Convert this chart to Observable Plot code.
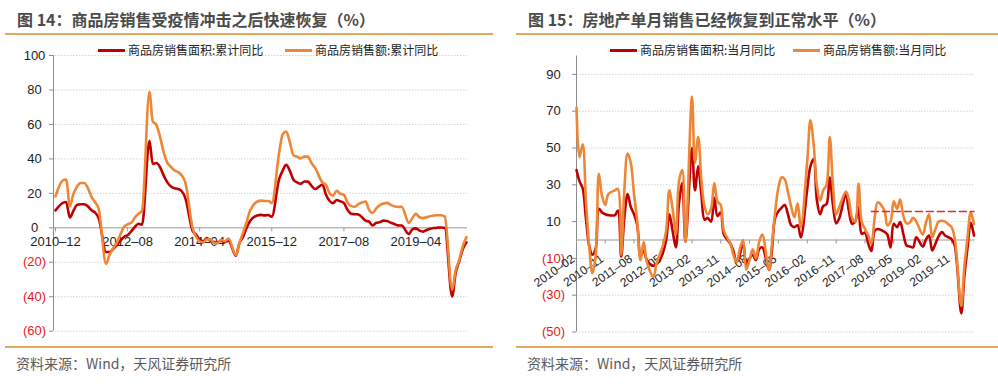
<!DOCTYPE html>
<html><head><meta charset="utf-8">
<script src="https://cdn.jsdelivr.net/npm/d3@7"></script>
<script src="https://cdn.jsdelivr.net/npm/@observablehq/plot@0.6"></script>
<style>
body{margin:0;background:#fff;}
#root{position:relative;width:998px;height:387px;overflow:hidden;font-family:"Noto Sans CJK SC","Liberation Sans",sans-serif;}
.panel{position:absolute;top:0;height:387px;}
.title{position:absolute;top:9px;font-size:16px;line-height:20px;font-weight:700;color:#4a4a4a;white-space:nowrap;}
.rule{position:absolute;height:1.5px;background:#E3A85E;}
.src{position:absolute;top:353px;font-size:14px;line-height:20px;color:#5a5a5a;white-space:nowrap;}
.leg{position:absolute;top:42px;font-size:12px;line-height:16px;color:#222;white-space:nowrap;display:flex;align-items:center;}
.sw{display:inline-block;width:27px;height:3px;margin-right:3px;}
.panel svg{position:absolute;left:0;top:0;}
</style></head>
<body>
<div id="root">
  <div class="panel" id="pL" style="left:0;width:500px;">
    <div class="title" style="left:17px;">图 14：商品房销售受疫情冲击之后快速恢复（%）</div>
    <div class="rule" style="left:5px;width:488px;top:33px;"></div>
    <div class="rule" style="left:5px;width:488px;top:346px;"></div>
    <div class="src" style="left:16px;">资料来源：Wind，天风证券研究所</div>
  </div>
  <div class="panel" id="pR" style="left:500px;width:498px;">
    <div class="title" style="left:28px;">图 15：房地产单月销售已经恢复到正常水平（%）</div>
    <div class="rule" style="left:16px;width:482px;top:33px;"></div>
    <div class="rule" style="left:16px;width:482px;top:346px;"></div>
    <div class="src" style="left:27px;">资料来源：Wind，天风证券研究所</div>
  </div>
</div>
<script>
// ---------- data ----------
const RED = "#C00000", ORANGE = "#EE8636", NEG = "#E31A1C";

const leftSeriesNames = ["商品房销售面积:累计同比", "商品房销售额:累计同比"];
const rightSeriesNames = ["商品房销售面积:当月同比", "商品房销售额:当月同比"];

// cumulative YoY, 2010-12 .. 2020-06 (January not reported)
const leftArea = [10.1,
  14.5,15.0,6.0,9.8,13.3,13.7,13.7,12.4,10.2,8.8,5.5,
  -14.0,-14.0,-12.3,-10.0,-7.5,-5.3,-4.3,-2.0,0.5,2.4,1.8,
  50.5,37.1,37.6,35.3,30.4,26.5,24.0,23.0,22.5,21.2,17.3,
  -1.8,-3.8,-6.8,-7.8,-6.0,-7.6,-8.3,-8.6,-7.3,-8.2,-7.6,
  -16.3,-9.2,-5.4,-0.2,4.0,6.1,7.2,7.5,7.2,7.4,6.5,
  28.2,33.1,36.5,33.2,27.9,26.4,25.5,26.9,26.8,24.3,22.5,
  25.1,19.5,15.7,14.3,16.1,15.4,14.4,10.3,8.2,7.9,7.7,
  4.1,3.6,1.3,2.9,3.3,4.2,4.0,2.9,2.2,1.4,1.3,
  -3.6,-0.9,-0.3,-1.6,-2.2,-1.3,-0.6,-0.1,0.1,0.2,-0.1,
  -39.9,-26.3,-19.3,-12.3,-8.4];
const leftAmount = [18.3,
  27.5,28.0,12.5,19.6,24.0,26.0,26.0,23.0,18.0,14.7,11.0,
  -20.9,-15.7,-11.8,-8.8,-3.9,0.6,2.0,3.0,5.9,8.2,10.0,
  79.0,61.8,59.8,53.0,44.0,38.0,35.3,33.3,32.4,30.4,26.3,
  -0.1,-5.2,-7.8,-8.5,-6.7,-6.6,-8.9,-8.9,-6.9,-7.8,-6.3,
  -15.8,-9.3,-3.1,3.0,10.0,13.4,15.3,15.8,15.6,15.6,14.4,
  43.6,54.1,55.9,49.9,42.1,41.3,40.3,41.3,41.3,37.5,34.8,
  26.3,25.1,20.2,18.6,21.5,19.8,19.1,14.6,12.6,12.2,13.7,
  15.3,10.4,8.6,11.3,13.2,14.1,14.5,13.3,12.5,12.1,12.2,
  2.8,5.6,8.1,6.1,5.6,6.2,6.7,7.1,7.3,7.3,6.5,
  -35.9,-24.7,-18.6,-10.6,-5.4];

// monthly YoY, 2010-02 .. 2020-06 (January not reported)
const rightArea = [
  38,32,28,12,-3,-8,-5,17,15,14,13.5,
  13.5,16,-9,12,25,18,14,8,-9,-5,-11,
  -14,-13,-11,-7,0,14,5,-4,20,31,-1,
  50,27,40,25,11,12,10,23,13,15,3,
  -2,-6,-12,-8,-1,-13,-10,-8,-11,-5,-4,
  -16.3,-6,12,15.5,17.5,19,14,8,7,8,1.5,
  28.2,40,44,22,14,18.5,19.5,34,19,9,12,
  25,16,8.8,10,17.8,3.4,4,-2,-6,5,6,
  4.5,3,-4,8.8,7,9.7,3,-3,-3.5,-4,1.5,
  -3.6,0,2.4,-5.7,-2,2,4.3,2.4,1.5,0.5,-3,
  -39.9,-20,-3.9,9.3,2.4];
const rightAmount = [
  72,45,52,22,-3,-18,-9,36,24,19,25,
  27,27.8,-8,27,47,42,25,10,-11,-1,-12,
  -20,-13,-8,-3,5,27,17,3,32,38,-1,
  78,42,56,33,18,14,17,31,21,19,5,
  -2,-8,-12,-5,0,-16,-11,-5,-10,-1,3,
  -16,-3,15,28,34,33,26,18,12.4,20,7,
  43.6,65,52,30,21.5,27,30,56,30,14,18,
  26.3,22,12,10,30.5,10,6,2.4,-2,12,20.5,
  16,8,10,21,17,22,13,9,9.5,12,10,
  3,9,14,1.5,6,10,10.5,10,8.5,7,1,
  -35.9,-14.8,1.5,15,8.8];

// dashed reference level (right chart)
const refDates = ["2017-10", "2020-06"];
const refValue = 15.5;

const leftXTicks = ["2010-12","2012-08","2014-04","2015-12","2017-08","2019-04"];
const rightXTicks = ["2010-02","2010-11","2011-08","2012-05","2013-02","2013-11","2014-08",
  "2015-05","2016-02","2016-11","2017-08","2018-05","2019-02","2019-11"];
const leftYTicks = [-60,-40,-20,0,20,40,60,80,100];
const rightYTicks = [-50,-30,-10,10,30,50,70,90];

// ---------- helpers ----------
const parseM = s => new Date(s + "-01T00:00:00Z");
function months(start, end) {
  return d3.utcMonth.range(parseM(start), d3.utcMonth.offset(parseM(end), 1))
    .filter(d => d.getUTCMonth() !== 0);
}
const fmtY = d => d < 0 ? `(${-d})` : `${d}`;
const fmtX = s => s.replace("-", "–");

const leftDates = months("2010-12", "2020-06");
const rightDates = months("2010-02", "2020-06");
const L = leftDates.map((date, i) => ({date, area: leftArea[i], amount: leftAmount[i]}));
const R = rightDates.map((date, i) => ({date, area: rightArea[i], amount: rightAmount[i]}));

const FONT = "'Liberation Sans', 'Noto Sans CJK SC', sans-serif";

function legend(panel, names, lefts) {
  [RED, ORANGE].forEach((c, i) => {
    const d = document.createElement("div");
    d.className = "leg";
    d.style.left = lefts[i] + "px";
    d.innerHTML = `<span class="sw" style="background:${c}"></span><span>${names[i]}</span>`;
    panel.appendChild(d);
  });
}

// ---------- left chart ----------
const lx0 = parseM("2010-12");
const left = Plot.plot({
  width: 500, height: 387,
  marginTop: 55, marginBottom: 56.3, marginLeft: 55, marginRight: 34,
  x: {type: "utc", domain: [lx0, parseM("2020-06")], axis: null},
  y: {domain: [-60, 100], axis: null},
  style: {fontFamily: FONT, background: "transparent", overflow: "visible"},
  marks: [
    Plot.ruleY(leftYTicks.filter(d => d !== 0), {stroke: "#c8c8c8", strokeWidth: 0.8, strokeDasharray: "1.5,1.5", insetRight: -1}),
    Plot.ruleX([lx0], {y1: -60, y2: 100, stroke: "#8c8c8c", dx: -2}),
    Plot.ruleY(leftYTicks, {x1: () => lx0, x2: () => lx0, insetLeft: -4, dx: -2, stroke: "#8c8c8c"}),
    Plot.text(leftYTicks, {frameAnchor: "left", y: d => d, text: fmtY, dx: -21, textAnchor: "middle",
      fill: d => d < 0 ? NEG : "#222", fontSize: 13}),
    Plot.ruleY([0], {stroke: "#9a9a9a", strokeWidth: 1, insetLeft: -2, insetRight: -1}),
    Plot.ruleX(leftXTicks.map(parseM), {x: d => d, y1: () => 0, y2: () => 0, insetBottom: -4, stroke: "#9a9a9a"}),
    Plot.text(leftXTicks, {x: parseM, y: () => 0, text: fmtX, dy: 14, fontSize: 13, fill: "#222"}),
    Plot.line(L, {x: "date", y: "area", stroke: RED, strokeWidth: 2.6, curve: "monotone-x"}),
    Plot.line(L, {x: "date", y: "amount", stroke: ORANGE, strokeWidth: 2.6, curve: "monotone-x"})
  ]
});
document.getElementById("pL").appendChild(left);
legend(document.getElementById("pL"), leftSeriesNames, [98, 285]);

// ---------- right chart ----------
const rx0 = parseM("2010-02");
const right = Plot.plot({
  width: 498, height: 387,
  marginTop: 55.5, marginBottom: 55.5, marginLeft: 76, marginRight: 24.5,
  x: {type: "utc", domain: [rx0, parseM("2020-06")], axis: null},
  y: {domain: [-50, 100], axis: null},
  style: {fontFamily: FONT, background: "transparent", overflow: "visible"},
  marks: [
    Plot.ruleY(rightYTicks, {stroke: "#c8c8c8", strokeWidth: 0.8, strokeDasharray: "1.5,1.5", insetRight: -1}),
    Plot.ruleX([rx0], {y1: -50, y2: 100, stroke: "#8c8c8c"}),
    Plot.ruleY(rightYTicks, {x1: () => rx0, x2: () => rx0, insetLeft: -4, stroke: "#8c8c8c"}),
    Plot.text(rightYTicks, {frameAnchor: "left", y: d => d, text: fmtY, dx: -23, textAnchor: "middle",
      fill: d => d < 0 ? NEG : "#222", fontSize: 13}),
    Plot.ruleY([0], {stroke: "#9a9a9a", strokeWidth: 1, insetRight: -1}),
    Plot.ruleX(rightXTicks.map(parseM), {x: d => d, y1: () => 0, y2: () => 0, insetBottom: -4, stroke: "#9a9a9a"}),
    Plot.text(rightXTicks, {x: parseM, y: () => 0, text: fmtX, rotate: -35, textAnchor: "end",
      lineAnchor: "middle", dx: -3, dy: 17.5, fontSize: 12, fill: "#222"}),
    Plot.line(R, {x: "date", y: "area", stroke: RED, strokeWidth: 2.6, curve: "catmull-rom"}),
    Plot.line(R, {x: "date", y: "amount", stroke: ORANGE, strokeWidth: 2.6, curve: "catmull-rom"}),
    Plot.line(refDates.map(d => ({date: parseM(d), v: refValue})), {x: "date", y: "v", stroke: "#E8262A",
      strokeWidth: 1.5, strokeDasharray: "7,4"})
  ]
});
document.getElementById("pR").appendChild(right);
legend(document.getElementById("pR"), rightSeriesNames, [110, 293]);
</script>
</body></html>
